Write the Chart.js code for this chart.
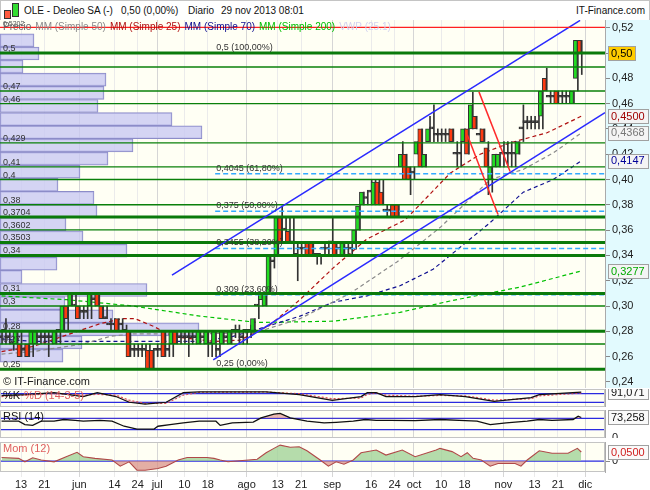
<!DOCTYPE html>
<html>
<head>
<meta charset="utf-8">
<script src="https://cdn.jsdelivr.net/npm/chart.js@4.4.0/dist/chart.umd.min.js"></script>
<style>
  html, body { margin: 0; padding: 0; background: #fff; }
  #wrap { position: relative; width: 650px; height: 490px; overflow: hidden; font-family: "Liberation Sans", Arial, sans-serif; }
  canvas { position: absolute; left: 0; }
  #title { position: absolute; left: 0; top: 0; width: 648px; height: 19px; border: 1px solid #c4c4c4; background: #fff; font-size: 10px; color: #111; }
  #title span { position: absolute; top: 4px; white-space: nowrap; }
  .cndl { position: absolute; border: 1px solid #333; }
</style>
</head>
<body>
<div id="wrap">
  <div id="title">
    <div class="cndl" style="left:3px;top:9px;width:5px;height:7px;background:#ff5a40"></div>
    <div class="cndl" style="left:11px;top:2px;width:5px;height:12px;background:#33dd33"></div>
    <span style="left:23px">OLE - Deoleo SA (-)</span>
    <span style="left:120px">0,50 (0,00%)</span>
    <span style="left:187px">Diario</span>
    <span style="left:220px">29 nov 2013 08:01</span>
    <span style="right:4px">IT-Finance.com</span>
  </div>
  <canvas id="main" width="650" height="368" style="top:20px"></canvas>
  <canvas id="stoch" width="650" height="18" style="top:389px"></canvas>
  <canvas id="rsi" width="650" height="28" style="top:410px"></canvas>
  <canvas id="mom" width="650" height="48" style="top:442px"></canvas>
</div>
<script>
// Daily prices, index 0 = 6 may 2013 (trading days)
const openP = [0.275,0.28,0.275,0.27,0.27,0.27,0.265,0.27,0.27,0.27,
  0.275,0.275,0.275,0.275,0.27,0.28,0.28,0.30,0.30,0.30,
  0.30,0.295,0.295,0.30,0.305,0.31,0.30,0.29,0.285,0.285,
  0.29,0.285,0.28,0.28,0.265,0.265,0.265,0.265,0.265,0.265,
  0.265,0.265,0.28,0.265,0.27,0.28,0.275,0.275,0.275,0.275,
  0.275,0.27,0.275,0.27,0.27,0.27,0.265,0.27,0.275,0.27,
  0.28,0.28,0.275,0.28,0.28,0.28,0.30,0.305,0.30,0.31,
  0.335,0.34,0.37,0.36,0.359,0.35,0.34,0.345,0.345,0.35,
  0.35,0.34,0.34,0.345,0.345,0.35,0.35,0.345,0.34,0.345,
  0.345,0.35,0.36,0.38,0.385,0.39,0.38,0.398,0.39,0.375,
  0.375,0.38,0.38,0.41,0.42,0.41,0.405,0.42,0.44,0.41,
  0.43,0.44,0.435,0.435,0.435,0.435,0.44,0.42,0.42,0.43,
  0.44,0.44,0.45,0.435,0.44,0.425,0.40,0.41,0.41,0.42,
  0.42,0.42,0.42,0.42,0.44,0.445,0.445,0.445,0.445,0.45,
  0.48,0.465,0.465,0.47,0.465,0.465,0.465,0.46,0.48,0.51];
const highP = [0.28,0.29,0.28,0.28,0.28,0.28,0.27,0.27,0.28,0.28,
  0.28,0.28,0.28,0.28,0.28,0.28,0.30,0.30,0.31,0.31,
  0.30,0.30,0.30,0.31,0.31,0.31,0.30,0.30,0.29,0.29,
  0.29,0.29,0.285,0.28,0.27,0.27,0.27,0.27,0.27,0.265,
  0.27,0.27,0.28,0.27,0.28,0.28,0.28,0.28,0.28,0.28,
  0.28,0.28,0.28,0.28,0.28,0.28,0.27,0.28,0.28,0.28,
  0.285,0.285,0.28,0.28,0.285,0.29,0.31,0.31,0.31,0.34,
  0.34,0.37,0.379,0.37,0.37,0.37,0.35,0.35,0.35,0.35,
  0.35,0.34,0.34,0.35,0.35,0.37,0.35,0.35,0.35,0.35,
  0.35,0.36,0.38,0.39,0.39,0.40,0.40,0.40,0.40,0.38,
  0.38,0.38,0.38,0.43,0.42,0.41,0.41,0.43,0.44,0.42,
  0.45,0.459,0.44,0.44,0.44,0.44,0.44,0.43,0.43,0.44,
  0.44,0.469,0.45,0.44,0.44,0.43,0.41,0.42,0.42,0.43,
  0.43,0.43,0.43,0.43,0.459,0.45,0.45,0.45,0.45,0.47,
  0.488,0.47,0.47,0.47,0.47,0.47,0.47,0.47,0.51,0.51];
const lowP = [0.27,0.27,0.27,0.265,0.27,0.26,0.26,0.26,0.26,0.27,
  0.27,0.27,0.26,0.27,0.27,0.27,0.28,0.28,0.30,0.29,
  0.29,0.29,0.29,0.29,0.30,0.30,0.29,0.29,0.28,0.28,
  0.28,0.28,0.28,0.26,0.26,0.26,0.26,0.26,0.25,0.25,
  0.26,0.26,0.26,0.26,0.26,0.27,0.27,0.27,0.26,0.27,
  0.27,0.27,0.27,0.26,0.26,0.26,0.26,0.27,0.27,0.27,
  0.275,0.27,0.27,0.27,0.275,0.28,0.29,0.30,0.30,0.31,
  0.33,0.34,0.35,0.35,0.35,0.34,0.32,0.34,0.34,0.34,
  0.34,0.333,0.333,0.34,0.34,0.34,0.34,0.34,0.34,0.34,
  0.34,0.345,0.36,0.38,0.38,0.38,0.38,0.38,0.38,0.37,
  0.37,0.37,0.37,0.40,0.40,0.388,0.40,0.42,0.41,0.41,
  0.43,0.43,0.43,0.43,0.43,0.43,0.43,0.41,0.41,0.43,
  0.42,0.44,0.44,0.43,0.43,0.388,0.39,0.41,0.41,0.41,
  0.41,0.41,0.41,0.42,0.43,0.44,0.44,0.44,0.44,0.44,
  0.47,0.46,0.46,0.46,0.46,0.46,0.46,0.46,0.47,0.483];
const closeP = [0.275,0.28,0.275,0.27,0.28,0.26,0.265,0.26,0.28,0.28,
  0.275,0.275,0.275,0.275,0.28,0.28,0.30,0.29,0.31,0.30,
  0.29,0.295,0.295,0.31,0.305,0.30,0.29,0.29,0.285,0.285,
  0.28,0.285,0.28,0.26,0.265,0.265,0.265,0.265,0.25,0.25,
  0.265,0.265,0.26,0.265,0.28,0.27,0.275,0.275,0.275,0.275,
  0.275,0.28,0.275,0.28,0.27,0.28,0.265,0.28,0.275,0.28,
  0.28,0.28,0.275,0.28,0.28,0.29,0.30,0.31,0.31,0.34,
  0.335,0.37,0.35,0.36,0.35,0.35,0.34,0.345,0.345,0.34,
  0.34,0.34,0.34,0.345,0.345,0.35,0.34,0.345,0.35,0.345,
  0.345,0.36,0.379,0.39,0.385,0.39,0.398,0.38,0.38,0.375,
  0.375,0.37,0.37,0.42,0.40,0.40,0.405,0.43,0.41,0.42,
  0.44,0.44,0.435,0.435,0.435,0.435,0.43,0.42,0.42,0.44,
  0.42,0.459,0.44,0.435,0.43,0.41,0.41,0.42,0.42,0.42,
  0.42,0.42,0.42,0.43,0.44,0.445,0.445,0.445,0.445,0.47,
  0.47,0.465,0.465,0.46,0.465,0.465,0.465,0.47,0.51,0.50];

// Time axis
const tickIdx = [5, 11, 20, 29, 35, 40, 47, 53, 63, 71, 77, 85, 95, 101, 106, 113, 119, 129, 137, 143, 150];
const tickLabels = ['13','21','jun','14','24','jul','10','18','ago','13','21','sep','16','24','oct','10','18','nov','13','21','dic'];
const priceTicks = [0.24,0.26,0.28,0.30,0.32,0.34,0.36,0.38,0.40,0.42,0.44,0.46,0.48,0.50,0.52];

// Moving averages (day index, value)
const ma50X = [0, 8.1, 21, 27.9, 33.8, 51, 65.2, 76.7, 89.6, 101.7, 112.7, 125.6, 134.1, 141.8, 149];
const ma50Y = [0.262, 0.264, 0.27, 0.276, 0.278, 0.278, 0.279, 0.29, 0.31, 0.335, 0.362, 0.40, 0.408, 0.421, 0.4368];
const ma25X = [0, 8.1, 17.6, 25.3, 31, 34.3, 39, 44.1, 49, 54.9, 61.3, 69, 76.7, 85.2, 93.9, 103.7, 115.3, 123, 130.7, 140.2, 149];
const ma25Y = [0.264, 0.268, 0.278, 0.286, 0.29, 0.29, 0.284, 0.276, 0.274, 0.272, 0.273, 0.285, 0.305, 0.33, 0.353, 0.368, 0.405, 0.42, 0.429, 0.437, 0.45];
const ma70X = [0, 8.1, 35.6, 51, 59.5, 68.3, 76.7, 85.2, 93.9, 102.4, 110.9, 115.3, 125.6, 134.1, 141.8, 149];
const ma70Y = [0.274, 0.272, 0.272, 0.272, 0.276, 0.284, 0.292, 0.303, 0.308, 0.316, 0.329, 0.34, 0.366, 0.39, 0.40, 0.4147];
const ma200X = [0, 16.8, 33.8, 51, 65.9, 85.2, 102.4, 115.3, 133.3, 149];
const ma200Y = [0.308, 0.305, 0.30, 0.292, 0.287, 0.288, 0.295, 0.304, 0.315, 0.3277];

// Support / resistance levels
const majorLevels = [0.5, 0.3704, 0.3503, 0.34, 0.31, 0.28, 0.25];
const minorLevels = [0.47, 0.46, 0.429, 0.41, 0.4, 0.38, 0.3602, 0.3, 0.27];
const unlabeledLevels = [0.489];
const redLevel = 0.5202;

// Fibonacci retracement
const fibLevels = [0.5, 0.4045, 0.375, 0.3455, 0.309, 0.25];
const fibPct = ['100,00%', '61,80%', '50,00%', '38,20%', '23,60%', '0,00%'];
const fibStart = 54.9;

// Trend channel and red lines (day index, price)
const chanUpperX = [43.8, 148.7], chanUpperY = [0.3244, 0.5258];
const chanLowerX = [54.4, 155.1], chanLowerY = [0.2575, 0.4528];
const redAX = [122.7, 130.7], redAY = [0.4693, 0.4063];
const redBX = [119.7, 127.6], redBY = [0.4354, 0.3724];

// Volume by price
const volLevels = [0.2556,0.2660,0.2764,0.2868,0.2971,0.3075,0.3179,0.3283,0.3387,0.3491,0.3595,0.3699,0.3803,
  0.3906,0.4010,0.4114,0.4218,0.4322,0.4426,0.4530,0.4634,0.4738,0.4841,0.4945,0.5049];
const volProfile = [63,82,199,113,65,147,22,57,127,83,66,97,94,58,80,108,133,202,172,98,104,106,23,39,34];

// Indicators (day index, value)
const stochX = [0, 6, 13.5, 21, 24.6, 29.4, 32.8, 36.9, 42.3, 46.7, 50.8, 68, 76.5, 85, 92.4, 94, 96.3, 98.8, 106.3, 112.7, 119.2, 126.6, 136.1, 138.2, 149];
const stochK = [67, 73, 87, 60, 87, 60, 20, 7, 20, 87, 93, 93, 73, 33, 60, 87, 87, 60, 60, 73, 60, 27, 53, 73, 91.071];
const stochD = [60, 70, 80, 70, 75, 70, 35, 12, 12, 70, 90, 92, 80, 45, 50, 75, 85, 70, 62, 68, 65, 35, 45, 65, 85];
const rsiX = [0, 4.4, 6, 8, 10.2, 13.5, 16, 18.9, 21, 25.3, 28.4, 31.5, 34.8, 39.2, 40.2, 43.3, 46.7, 50.8, 55.1, 56.2, 59.3, 64.7,
  66.7, 70, 71.6, 74.2, 76.5, 78.5, 82.9, 86, 90.4, 93.5, 96.3, 99.9, 106.3, 112.7, 119.2, 122.2, 125.6, 129.7, 135.1, 138.2, 141.5, 146.9, 148.2, 149];
const rsiY = [60, 60, 48, 45, 60, 60, 66, 63, 60, 63, 60, 42, 32, 32, 42, 48, 54, 60, 60, 45, 54, 57,
  72, 85, 88, 72, 66, 60, 54, 56, 60, 66, 63, 63, 62, 66, 62, 60, 48, 54, 60, 66, 63, 66, 78, 73.258];
const momX = [0, 4.4, 6, 8, 10.2, 13.5, 16.6, 19.4, 21, 24, 28.4, 30.5, 32.8, 34.8, 36.9, 40.2, 42.3, 45.4, 47.7, 52.8, 54.6, 56.2, 58.2,
  65.7, 68, 70, 71.6, 74.2, 76.5, 78.5, 81.9, 84, 86, 88, 90.4, 92.4, 96.3, 98.8, 103, 106.3, 111.7, 112.7, 115.8, 118.1, 119.7,
  121.2, 123.3, 125.6, 127.6, 132, 133.5, 135.1, 138.2, 141.5, 145.6, 148, 149];
const momY = [0.02, 0.015, -0.004, 0.018, 0.006, -0.004, 0.024, 0.048, 0.024, 0.015, 0.006, -0.028, -0.004, -0.05, -0.05, -0.041, -0.028, 0.006, 0.02, 0.02, 0.015, 0.006, -0.004,
  0.01, 0.046, 0.07, 0.088, 0.076, 0.079, 0.057, 0.006, -0.028, -0.004, -0.017, 0.006, 0.046, 0.061, 0.033, 0.061, 0.024, 0.061, 0.07, 0.052, 0.024, 0.046,
  0.015, 0.006, -0.028, -0.013, -0.013, -0.028, 0.006, 0.057, 0.043, 0.043, 0.07, 0.05];

const xMin = -0.4, xMax = 155.1;
const FONT = '"Liberation Sans", Arial, sans-serif';
Chart.defaults.font.family = FONT;

const comma = (v, d) => v.toFixed(d).replace('.', ',');
const pts = (xs, ys) => xs.map((x, i) => ({ x, y: ys[i] }));
const hseg = (lvl, from) => [{ x: from, y: lvl }, { x: xMax, y: lvl }];
const isMonth = i => isNaN(Number(tickLabels[i]));

function line(data, color, width, dash, order, extra) {
  return Object.assign({ type: 'line', data, borderColor: color, borderWidth: width, borderDash: dash,
    pointRadius: 0, fill: false, tension: 0, order }, extra || {});
}

function xAxis(showLabels) {
  return {
    type: 'linear', min: xMin, max: xMax, offset: false,
    grid: { offset: false, drawTicks: showLabels, tickLength: 5, color: c => isMonth(c.index) ? '#d6d6d6' : '#ebebeb' },
    border: { display: false },
    ticks: { display: showLabels, autoSkip: false, maxRotation: 0, color: '#222', font: { size: 11 }, padding: 1,
      callback: (v, i) => tickLabels[i] },
    afterBuildTicks: s => { s.ticks = tickIdx.map(v => ({ value: v })); },
    afterFit: s => { s.height = showLabels ? 18 : 0; s.paddingLeft = 0; s.paddingRight = 0; }
  };
}

function drawBox(ctx, x, y, text, fg, bg) {
  ctx.font = '11px ' + FONT;
  const w = Math.round(ctx.measureText(text).width) + 6;
  const top = Math.round(y - 7) + 0.5;
  ctx.fillStyle = bg;
  ctx.fillRect(x, top, w, 14);
  ctx.strokeStyle = '#a0a0a0';
  ctx.lineWidth = 1;
  ctx.strokeRect(x + 0.5, top, w, 14);
  ctx.fillStyle = fg;
  ctx.textAlign = 'left';
  ctx.textBaseline = 'middle';
  ctx.fillText(text, x + 3, y + 0.5);
}

// ---- Main price chart ----
const last = a => a[a.length - 1];
const days = openP.map((_, i) => i);

const mainDecor = {
  id: 'mainDecor',
  beforeDraw(chart) {
    const { ctx, chartArea: a } = chart;
    ctx.save();
    ctx.fillStyle = '#fffff4';
    ctx.fillRect(a.left, a.top, a.right - a.left, a.bottom - a.top);
    ctx.fillStyle = '#e2fafe';
    ctx.fillRect(a.right, 0, chart.width - a.right, chart.height);
    ctx.restore();
  },
  afterDraw(chart) {
    const { ctx, chartArea: a } = chart;
    const y = chart.scales.y, x = chart.scales.x;
    ctx.save();
    // level labels
    ctx.font = '9px ' + FONT;
    ctx.fillStyle = '#333';
    ctx.textAlign = 'left';
    ctx.textBaseline = 'alphabetic';
    majorLevels.concat(minorLevels).forEach(l => {
      ctx.fillText(String(l).replace('.', ','), 3, y.getPixelForValue(l) - 2);
    });
    // fibonacci labels
    const fx = x.getPixelForValue(fibStart) + 1;
    fibLevels.forEach((l, i) => {
      ctx.fillText(String(l).replace('.', ',') + ' (' + fibPct[i] + ')', fx, y.getPixelForValue(l) - 3);
    });
    ctx.font = '7px ' + FONT;
    ctx.fillStyle = '#555';
    ctx.fillText(String(redLevel).replace('.', ','), 3, y.getPixelForValue(redLevel) - 1);
    // legend row
    ctx.font = '10px ' + FONT;
    let lx = 3;
    [['Precio', '#666'], ['MM (Simple 50)', '#8a8a8a'], ['MM (Simple 25)', '#b01010'], ['MM (Simple 70)', '#101090'],
     ['MM (Simple 200)', '#00c000'], ['VWP (25.1)', '#d2d2ee']].forEach(([t, c]) => {
      ctx.fillStyle = c;
      ctx.fillText(t, lx, 10);
      lx += ctx.measureText(t).width + 4;
    });
    ctx.font = '11px ' + FONT;
    ctx.fillStyle = '#222';
    ctx.fillText('\u00a9 IT-Finance.com', 3, a.bottom - 3);
    // value boxes on the price axis
    const bx = a.right + 3;
    drawBox(ctx, bx, y.getPixelForValue(last(ma200Y)), comma(last(ma200Y), 4), '#00aa00', '#f4f4f4');
    drawBox(ctx, bx, y.getPixelForValue(last(ma70Y)), comma(last(ma70Y), 4), '#000099', '#f4f4f4');
    drawBox(ctx, bx, y.getPixelForValue(last(ma50Y)), comma(last(ma50Y), 4), '#777', '#f4f4f4');
    drawBox(ctx, bx, y.getPixelForValue(last(ma25Y)), comma(last(ma25Y), 4), '#a00000', '#f4f4f4');
    drawBox(ctx, bx, y.getPixelForValue(last(closeP)), comma(last(closeP), 2), '#000', '#ffcc00');
    ctx.restore();
  }
};

const mainSets = [];
mainSets.push({
  type: 'bar', indexAxis: 'y', xAxisID: 'xv', yAxisID: 'y',
  data: volLevels.map((l, i) => ({ x: volProfile[i], y: l })),
  backgroundColor: 'rgba(200,200,242,0.78)', borderColor: '#8c8cc8', borderWidth: 1, borderSkipped: false,
  barThickness: 13, order: 20
});
mainSets.push(line(pts(ma50X, ma50Y), '#8a8a8a', 1.2, [4, 3], 14));
mainSets.push(line(pts(ma25X, ma25Y), '#b01010', 1.2, [4, 3], 14));
mainSets.push(line(pts(ma70X, ma70Y), '#101090', 1.2, [4, 3], 14));
mainSets.push(line(pts(ma200X, ma200Y), '#00c000', 1.2, [4, 3], 14));
mainSets.push({
  type: 'bar', data: days.map(i => ({ x: i, y: [lowP[i], highP[i]] })),
  backgroundColor: '#333', barThickness: 1, order: 13
});
mainSets.push({
  type: 'bar', data: days.map(i => ({ x: i, y: [openP[i], closeP[i]] })),
  backgroundColor: days.map(i => closeP[i] > openP[i] ? '#22dd22' : closeP[i] < openP[i] ? '#ff3a10' : '#333'),
  borderColor: '#333', borderWidth: 1, borderSkipped: false, barThickness: 4, minBarLength: 2, order: 12
});
fibLevels.slice(1, -1).forEach(l => mainSets.push(line(hseg(l, fibStart), '#33aaff', 1.5, [5, 3], 11)));
minorLevels.concat(unlabeledLevels).forEach(l => mainSets.push(line(hseg(l, xMin), '#0a800a', 1.4, [], 10)));
majorLevels.forEach(l => mainSets.push(line(hseg(l, xMin), '#0a7a0a', 3, [], 10)));
mainSets.push(line(hseg(redLevel, xMin), '#ff2020', 1.2, [], 3));
mainSets.push(line(pts(chanUpperX, chanUpperY), '#2a2aff', 1.5, [], 3));
mainSets.push(line(pts(chanLowerX, chanLowerY), '#2a2aff', 1.5, [], 3));
mainSets.push(line(pts(redAX, redAY), '#ff2a2a', 1.5, [], 2));
mainSets.push(line(pts(redBX, redBY), '#ff2a2a', 1.5, [], 2));

new Chart(document.getElementById('main'), {
  type: 'line',
  data: { datasets: mainSets },
  options: {
    responsive: false, animation: false, events: [],
    layout: { padding: 0 },
    plugins: { legend: { display: false }, tooltip: { enabled: false } },
    scales: {
      x: xAxis(false),
      xv: { type: 'linear', display: false, min: 0, max: 605, position: 'bottom', offset: false, beginAtZero: true },
      y: {
        type: 'linear', position: 'right', min: 0.2352, max: 0.5261, offset: false, beginAtZero: false,
        grid: { offset: false, drawOnChartArea: false, drawTicks: true, tickLength: 5, color: '#888' },
        border: { display: true, color: '#aaa' },
        ticks: { color: '#222', font: { size: 11 }, padding: 2, callback: v => comma(v, 2) },
        afterBuildTicks: s => { s.ticks = priceTicks.map(v => ({ value: v })); },
        afterFit: s => { s.width = 45; s.paddingTop = 0; s.paddingBottom = 0; }
      }
    }
  },
  plugins: [mainDecor]
});

// ---- Indicator panels ----
function panelDecor(labels, boxVal, boxText, boxColor) {
  return {
    id: 'panelDecor',
    beforeDraw(chart) {
      const { ctx, chartArea: a } = chart;
      ctx.save();
      ctx.fillStyle = '#fffff4';
      ctx.fillRect(a.left, a.top, a.right - a.left, a.bottom - a.top);
      ctx.restore();
    },
    afterDraw(chart) {
      const { ctx, chartArea: a } = chart;
      ctx.save();
      ctx.strokeStyle = '#c4c4c4';
      ctx.lineWidth = 1;
      ctx.strokeRect(a.left + 0.5, a.top + 0.5, a.right - a.left - 1, a.bottom - a.top - 1);
      ctx.font = '11px ' + FONT;
      ctx.textAlign = 'left';
      ctx.textBaseline = 'middle';
      let lx = 3;
      labels.forEach(([t, c]) => {
        ctx.fillStyle = c;
        ctx.fillText(t, lx, a.top + 7);
        lx += ctx.measureText(t).width + 4;
      });
      drawBox(ctx, a.right + 3, chart.scales.y.getPixelForValue(boxVal), boxText, boxColor, '#fafafa');
      ctx.restore();
    }
  };
}

function panel(id, datasets, yMin, yMax, yTicks, showX, decor) {
  new Chart(document.getElementById(id), {
    type: 'line',
    data: { datasets },
    options: {
      responsive: false, animation: false, events: [],
      layout: { padding: 0 },
      plugins: { legend: { display: false }, tooltip: { enabled: false } },
      scales: {
        x: xAxis(showX),
        y: {
          type: 'linear', position: 'right', min: yMin, max: yMax, offset: false,
          grid: { drawOnChartArea: false, drawTicks: true, tickLength: 5, color: '#888' },
          border: { display: true, color: '#aaa' },
          ticks: { display: yTicks.length > 0, color: '#222', font: { size: 11 }, padding: 2, callback: v => String(v) },
          afterBuildTicks: s => { s.ticks = yTicks.map(v => ({ value: v })); },
          afterFit: s => { s.width = 45; s.paddingTop = 0; s.paddingBottom = 0; }
        }
      }
    },
    plugins: [decor]
  });
}

const guide = l => line(hseg(l, xMin), '#2a2ae0', 1.3, [], 5);

panel('stoch', [
  line(pts(stochX, stochK), '#111', 1.2, [], 1,
    { fill: { target: 1, above: 'rgba(130,130,230,0.35)', below: 'rgba(235,120,120,0.4)' } }),
  line(pts(stochX, stochD), '#e04a4a', 1.2, [2, 2], 2),
  guide(80), guide(20)
], -13, 113, [], false,
  panelDecor([['%K', '#111'], ['%D (14-3-5)', '#e06060']], last(stochK), comma(last(stochK), 3), '#111'));

panel('rsi', [
  line(pts(rsiX, rsiY), '#111', 1.3, [], 1,
    { fill: { target: { value: 70 }, above: 'rgba(220,130,120,0.55)', below: 'rgba(0,0,0,0)' } }),
  guide(70), guide(30)
], 0, 100, [0, 50], false,
  panelDecor([['RSI (14)', '#111']], last(rsiY), comma(last(rsiY), 3), '#111'));

panel('mom', [
  line(pts(momX, momY), '#b04848', 1.1, [], 1,
    { fill: { target: { value: 0 }, above: 'rgba(150,205,140,0.7)', below: 'rgba(215,140,130,0.7)' } }),
  guide(0)
], -0.06, 0.105, [0], true,
  panelDecor([['Mom (12)', '#e06060']], last(momY), comma(last(momY), 4), '#d02020'));
</script>
</body>
</html>
